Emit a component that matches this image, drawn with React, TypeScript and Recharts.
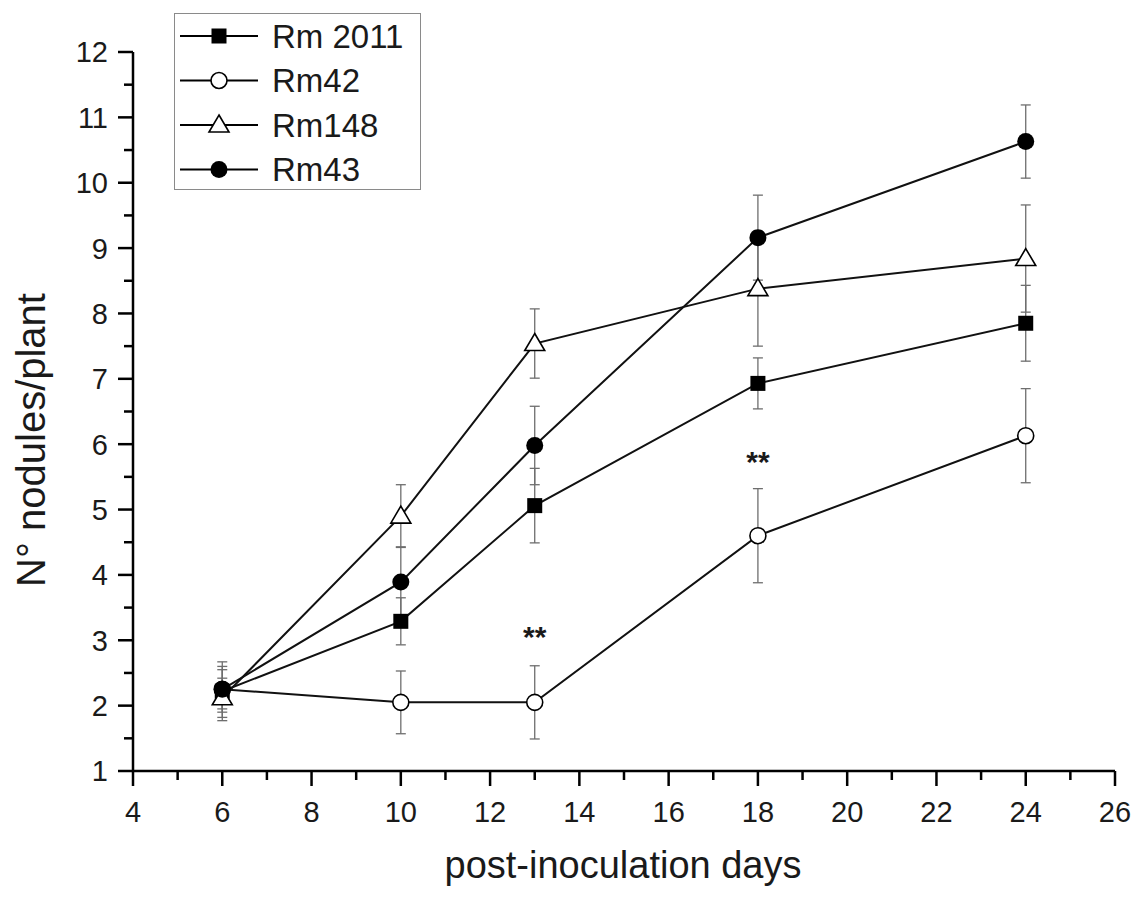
import React from 'react';
import { ComposedChart, Line, Scatter, XAxis, YAxis, ErrorBar, Legend, Label } from 'recharts';

// sampling days
const days = [6, 10, 13, 18, 24];

// mean nodules per plant
const rm2011 = [2.22, 3.29, 5.06, 6.93, 7.85];
const rm2011Err = [0.45, 0.36, 0.57, 0.39, 0.58];
const rm42 = [2.25, 2.05, 2.05, 4.6, 6.13];
const rm42Err = [0.35, 0.48, 0.56, 0.72, 0.72];
const rm148 = [2.12, 4.9, 7.54, 8.38, 8.84];
const rm148Err = [0.3, 0.48, 0.53, 0.88, 0.82];
const rm43 = [2.25, 3.89, 5.98, 9.16, 10.63];
const rm43Err = [0.3, 0.54, 0.6, 0.65, 0.56];

const seriesNames = ['Rm 2011', 'Rm42', 'Rm148', 'Rm43'];
const seriesKeys = ['rm2011', 'rm42', 'rm148', 'rm43'];
const seriesMarkers = ['square', 'openCircle', 'openTriangle', 'circle'];

// significance marks
const annotationDays = [13, 18];
const annotationLevels = [3.18, 5.85];
const annotationTexts = ['**', '**'];

const xMajorTicks = [4, 6, 8, 10, 12, 14, 16, 18, 20, 22, 24, 26];
const xMinorTicks = [5, 7, 9, 11, 13, 15, 17, 19, 21, 23, 25];
const yMajorTicks = [1, 2, 3, 4, 5, 6, 7, 8, 9, 10, 11, 12];
const yMinorTicks = [1.5, 2.5, 3.5, 4.5, 5.5, 6.5, 7.5, 8.5, 9.5, 10.5, 11.5];

const FONT = '"Liberation Sans", Arial, Helvetica, sans-serif';
const INK = '#1a1a1a';

const rows = days.map((d, i) => ({
  day: d,
  rm2011: rm2011[i],
  rm2011Err: rm2011Err[i],
  rm42: rm42[i],
  rm42Err: rm42Err[i],
  rm148: rm148[i],
  rm148Err: rm148Err[i],
  rm43: rm43[i],
  rm43Err: rm43Err[i],
}));

const annotations = annotationDays.map((d, i) => ({ day: d, level: annotationLevels[i], text: annotationTexts[i] }));

const Marker = ({ kind, cx, cy }: { kind: string; cx: number; cy: number }) => {
  if (kind === 'square') {
    return <rect x={cx - 7.5} y={cy - 7.5} width={15} height={15} fill="#000" />;
  }
  if (kind === 'openCircle') {
    return <circle cx={cx} cy={cy} r={8} fill="#fff" stroke="#000" strokeWidth={1.6} />;
  }
  if (kind === 'openTriangle') {
    return (
      <polygon
        points={`${cx},${cy - 10} ${cx + 10},${cy + 7} ${cx - 10},${cy + 7}`}
        fill="#fff"
        stroke="#000"
        strokeWidth={1.6}
      />
    );
  }
  return <circle cx={cx} cy={cy} r={8.5} fill="#000" />;
};

const XTick = (props: any) => {
  const { x, y, payload } = props;
  const major = xMajorTicks.includes(payload.value);
  return (
    <g>
      <line x1={x} y1={y} x2={x} y2={y + (major ? 15 : 9)} stroke="#000" strokeWidth={2.5} />
      {major && (
        <text x={x} y={y + 51} textAnchor="middle" fontSize={29} fontFamily={FONT} fill={INK}>
          {payload.value}
        </text>
      )}
    </g>
  );
};

const YTick = (props: any) => {
  const { x, y, payload } = props;
  const major = yMajorTicks.includes(payload.value);
  return (
    <g>
      <line x1={x - (major ? 15 : 9)} y1={y} x2={x} y2={y} stroke="#000" strokeWidth={2.5} />
      {major && (
        <text x={x - 25} y={y} dy="0.36em" textAnchor="end" fontSize={29} fontFamily={FONT} fill={INK}>
          {payload.value}
        </text>
      )}
    </g>
  );
};

const LegendBox = () => (
  <div
    style={{
      width: 247,
      height: 177,
      boxSizing: 'border-box',
      border: '1.5px solid #8a8a8a',
      background: '#fff',
    }}
  >
    <svg width={244} height={174}>
      {seriesNames.map((name, i) => {
        const cy = 22 + i * 44.5;
        return (
          <g key={name}>
            <line x1={5} y1={cy} x2={83} y2={cy} stroke="#000" strokeWidth={2} />
            <Marker kind={seriesMarkers[i]} cx={44} cy={cy} />
            <text x={97} y={cy} dy="0.36em" fontSize={33} fontFamily={FONT} fill={INK}>
              {name}
            </text>
          </g>
        );
      })}
    </svg>
  </div>
);

const StarMark = (props: any) => {
  const { cx, cy, payload } = props;
  return (
    <text x={cx} y={cy} dy="0.6em" textAnchor="middle" fontSize={30} fontWeight="bold" fontFamily={FONT} fill={INK}>
      {payload.text}
    </text>
  );
};

const App = () => {
  return (
    <div style={{ position: 'absolute', left: 0, top: 0, background: '#fff' }}>
      <ComposedChart width={1138} height={898} data={rows} margin={{ top: 52, right: 23, left: 0, bottom: 0 }}>
        <XAxis
          dataKey="day"
          type="number"
          domain={[4, 26]}
          allowDataOverflow
          ticks={[...xMajorTicks, ...xMinorTicks].sort((a, b) => a - b)}
          interval={0}
          height={127}
          tickLine={false}
          tickSize={0}
          tickMargin={0}
          tick={<XTick />}
          axisLine={{ stroke: '#000', strokeWidth: 2.5 }}
        >
          <Label
            content={() => (
              <text x={623} y={878} textAnchor="middle" fontSize={38} fontFamily={FONT} fill={INK}>
                post-inoculation days
              </text>
            )}
          />
        </XAxis>
        <YAxis
          type="number"
          domain={[1, 12]}
          allowDataOverflow
          ticks={[...yMajorTicks, ...yMinorTicks].sort((a, b) => a - b)}
          interval={0}
          width={133}
          tickLine={false}
          tickSize={0}
          tickMargin={0}
          tick={<YTick />}
          axisLine={{ stroke: '#000', strokeWidth: 2.5 }}
        >
          <Label
            content={() => (
              <text
                x={31}
                y={440}
                transform="rotate(-90 31 440)"
                textAnchor="middle"
                dominantBaseline="central"
                fontSize={40}
                fontFamily={FONT}
                fill={INK}
              >
                N° nodules/plant
              </text>
            )}
          />
        </YAxis>
        <Legend
          layout="vertical"
          align="center"
          verticalAlign="middle"
          wrapperStyle={{ position: 'absolute', left: 174, top: 13, width: 247, height: 177 }}
          content={() => <LegendBox />}
        />
        {seriesKeys.map((key, i) => (
          <Line
            key={key}
            dataKey={key}
            name={seriesNames[i]}
            type="linear"
            stroke="#111"
            strokeWidth={2}
            isAnimationActive={false}
            dot={(p: any) => <Marker key={`${key}-${p.index}`} kind={seriesMarkers[i]} cx={p.cx} cy={p.cy} />}
            activeDot={false}
          >
            <ErrorBar dataKey={`${key}Err`} direction="y" width={5} stroke="#6e6e6e" strokeWidth={1.3} />
          </Line>
        ))}
        <Scatter data={annotations} dataKey="level" isAnimationActive={false} shape={<StarMark />} />
      </ComposedChart>
    </div>
  );
};

export default App;
